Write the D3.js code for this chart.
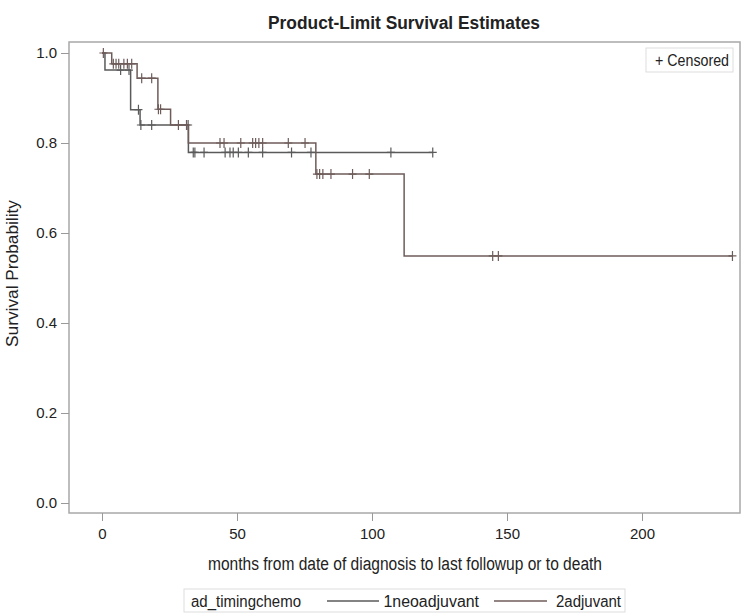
<!DOCTYPE html>
<html>
<head>
<meta charset="utf-8">
<script src="https://cdn.jsdelivr.net/npm/d3@7"></script>
<style>
  body { margin: 0; background: #fff; }
  text { font-family: "Liberation Sans", Arial, sans-serif; fill: #222; }
</style>
</head>
<body>
<div id="chart"></div>
<script>
// step points: [time, survival after the drop]
const neoSteps = [[0, 1], [1.1, 0.962], [10.6, 0.874], [14.1, 0.84], [32, 0.779]];
const neoEnd = 122.5;
const neoCensor = [6.9, 10, 13.5, 14.4, 18.4, 31.9, 33.8, 34.4, 37.8, 45.6, 47.4, 48.6, 50.5,
                   54.2, 59.5, 70.2, 77.4, 107, 122.5];

const adjSteps = [[0, 1], [3.6, 0.976], [13, 0.944], [20.7, 0.875], [25.4, 0.84], [32, 0.80],
                  [79.2, 0.731], [111.9, 0.549]];
const adjEnd = 233.5;
const adjCensor = [0.5, 4.2, 5.2, 6.2, 8.1, 9.4, 11, 14.7, 18.4, 20.9, 21.7, 28.3, 31.3,
                   43.7, 45.2, 51.4, 55.8, 56.9, 58.1, 59.5, 69.0, 75.2, 79.6, 80.6, 81.8,
                   84.8, 92.8, 99.0, 144.7, 146.8, 233.5];

const xTicks = [0, 50, 100, 150, 200];
const yTicks = [0, 0.2, 0.4, 0.6, 0.8, 1.0];
const groups = ["1neoadjuvant", "2adjuvant"];

const W = 750, H = 614;
const frame = { left: 69, right: 740, top: 42, bottom: 513 };

const svg = d3.select("#chart").append("svg")
    .attr("width", W).attr("height", H);

const x = d3.scaleLinear().domain([0, 200]).range([102, 642]);
const y = d3.scaleLinear().domain([0, 1]).range([503, 53]);

// frame
svg.append("rect")
    .attr("x", frame.left).attr("y", frame.top)
    .attr("width", frame.right - frame.left)
    .attr("height", frame.bottom - frame.top)
    .attr("fill", "none").attr("stroke", "#a8a8a8").attr("stroke-width", 1.5);

// axes
const xAxis = svg.append("g")
    .attr("transform", `translate(0, ${frame.bottom})`)
    .call(d3.axisBottom(x).tickValues(xTicks).tickSize(8).tickPadding(7));
const yAxis = svg.append("g")
    .attr("transform", `translate(${frame.left}, 0)`)
    .call(d3.axisLeft(y).tickValues(yTicks).tickSize(8).tickPadding(4).tickFormat(d3.format(".1f")));

[xAxis, yAxis].forEach(g => {
    g.select(".domain").remove();
    g.selectAll(".tick line").attr("stroke", "#999");
    g.selectAll(".tick text").attr("font-size", 15).style("fill", "#222")
        .style("font-family", "'Liberation Sans', Arial, sans-serif");
});

function survAt(steps, t) {
    let s = 1;
    steps.forEach(d => { if (d[0] <= t) s = d[1]; });
    return s;
}

function stepPath(steps, end) {
    const pts = steps.map(d => [d[0], d[1]]);
    pts.push([end, steps[steps.length - 1][1]]);
    return d3.line().x(d => x(d[0])).y(d => y(d[1])).curve(d3.curveStepAfter)(pts);
}

function plusPath(t, s) {
    return `M${x(t)},${y(s) - 5}V${y(s) + 5}M${x(t) - 4},${y(s)}H${x(t) + 4}`;
}

function drawCurve(steps, end, censor, color) {
    svg.append("path")
        .attr("d", stepPath(steps, end))
        .attr("fill", "none").attr("stroke", color).attr("stroke-width", 1.5);
    svg.append("g").selectAll("path")
        .data(censor).enter().append("path")
        .attr("d", d => plusPath(d, survAt(steps, d)))
        .attr("fill", "none").attr("stroke", color).attr("stroke-width", 1.2);
}

drawCurve(neoSteps, neoEnd, neoCensor, "#5a5a5a");
drawCurve(adjSteps, adjEnd, adjCensor, "#6e5c5a");

// fitted text helper (reference font is a condensed sans)
function label(parent, tx, ty, str, size, len, opts = {}) {
    const t = parent.append("text")
        .attr("x", tx).attr("y", ty)
        .attr("font-size", size)
        .attr("textLength", len).attr("lengthAdjust", "spacingAndGlyphs")
        .text(str);
    if (opts.anchor) t.attr("text-anchor", opts.anchor);
    if (opts.bold) t.attr("font-weight", "bold");
    if (opts.transform) t.attr("transform", opts.transform);
    return t;
}

// title
label(svg, 268, 29, "Product-Limit Survival Estimates", 18, 272, { bold: true });

// axis titles
label(svg, 208, 570, "months from date of diagnosis to last followup or to death", 18, 394);
label(svg, 0, 0, "Survival Probability", 17, 147,
      { transform: "translate(18, 347) rotate(-90)" });

// censored box
svg.append("rect")
    .attr("x", 646).attr("y", 48).attr("width", 87).attr("height", 24)
    .attr("fill", "#fff").attr("stroke", "#ddd");
label(svg, 655, 66, "+ Censored", 16, 74);

// legend
const leg = svg.append("g");
leg.append("rect")
    .attr("x", 184).attr("y", 589).attr("width", 441).attr("height", 23)
    .attr("fill", "#fff").attr("stroke", "#ddd");
label(leg, 191, 607, "ad_timingchemo", 16, 110);
const legItems = [
    { name: groups[0], x1: 327, x2: 379, tx: 383.5, len: 95.5, color: "#5a5a5a" },
    { name: groups[1], x1: 494, x2: 547, tx: 556, len: 65, color: "#6e5c5a" }
];
legItems.forEach(d => {
    leg.append("line").attr("x1", d.x1).attr("x2", d.x2).attr("y1", 601).attr("y2", 601)
        .attr("stroke", d.color).attr("stroke-width", 1.3);
    label(leg, d.tx, 607, d.name, 16, d.len);
});
</script>
</body>
</html>
